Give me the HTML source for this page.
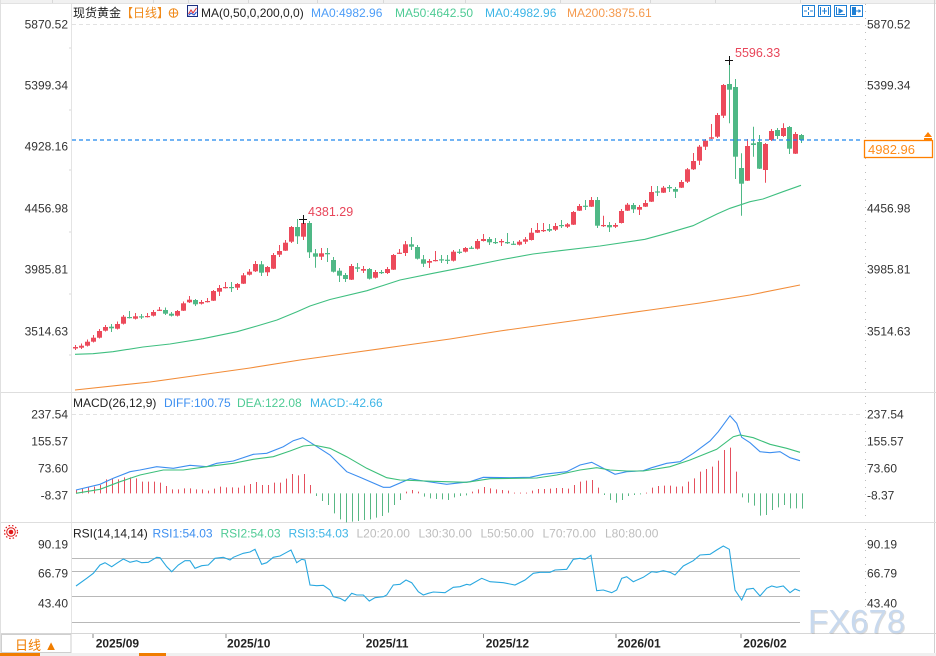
<!DOCTYPE html>
<html><head><meta charset="utf-8">
<style>
html,body{margin:0;padding:0;background:#fff;}
body{width:936px;height:656px;overflow:hidden;position:relative;}
svg{position:absolute;left:0;top:0;}
</style></head><body>
<svg id="s" width="936" height="656" viewBox="0 0 936 656" xmlns="http://www.w3.org/2000/svg" font-family="'Liberation Sans','Noto Sans CJK SC',sans-serif" font-size="12">
<rect x="0" y="0" width="936" height="656" fill="#fff"/>
<!-- top tab strip -->
<rect x="0" y="0" width="936" height="3" fill="#f1f1f1"/>
<line x1="0" y1="3.5" x2="936" y2="3.5" stroke="#e2e2e2"/>
<g stroke="#d8d8d8"><line x1="52.5" y1="0" x2="52.5" y2="3"/><line x1="153.5" y1="0" x2="153.5" y2="3"/><line x1="188.5" y1="0" x2="188.5" y2="3"/><line x1="248.5" y1="0" x2="248.5" y2="3"/><line x1="317.5" y1="0" x2="317.5" y2="3"/><line x1="383.5" y1="0" x2="383.5" y2="3"/><line x1="465.5" y1="0" x2="465.5" y2="3"/><line x1="560.5" y1="0" x2="560.5" y2="3"/><line x1="650.5" y1="0" x2="650.5" y2="3"/><line x1="715.5" y1="0" x2="715.5" y2="3"/><line x1="800.5" y1="0" x2="800.5" y2="3"/></g>

<!-- frame lines -->
<line x1="71.5" y1="4" x2="71.5" y2="633" stroke="#e4e4e4"/>
<line x1="865.5" y1="4" x2="865.5" y2="633" stroke="#bdbdbd" stroke-dasharray="1,6"/>
<line x1="934.5" y1="0" x2="934.5" y2="656" stroke="#d0d0d0"/>
<line x1="0" y1="392.5" x2="936" y2="392.5" stroke="#dedede"/>
<line x1="0" y1="522.5" x2="936" y2="522.5" stroke="#dedede"/>
<line x1="0" y1="633.5" x2="936" y2="633.5" stroke="#d6d6d6"/>
<line x1="0.5" y1="0" x2="0.5" y2="656" stroke="#e0e0e0"/>

<!-- grid -->
<line x1="72" y1="24.5" x2="862" y2="24.5" stroke="#e2e2e2" stroke-dasharray="4,3"/>
<line x1="72" y1="414.5" x2="862" y2="414.5" stroke="#e2e2e2" stroke-dasharray="4,3"/>
<g stroke="#b8b8b8">
<line x1="72" y1="558.5" x2="800" y2="558.5"/>
<line x1="72" y1="571.5" x2="800" y2="571.5"/>
<line x1="72" y1="596.5" x2="800" y2="596.5"/>
<line x1="72" y1="622.5" x2="800" y2="622.5"/>
</g>

<!-- header -->
<text x="73" y="17" fill="#222">现货黄金</text>
<text x="121" y="17" fill="#f08a1a">【日线】</text>
<circle cx="173.5" cy="13" r="4.3" fill="none" stroke="#f08a1a" stroke-width="1"/>
<line x1="169" y1="13" x2="178" y2="13" stroke="#f08a1a"/>
<line x1="173.5" y1="8.5" x2="173.5" y2="17.5" stroke="#f08a1a"/>
<rect x="187.5" y="5.5" width="10" height="11" fill="#f4f6ff" stroke="#1c2f80"/>
<polyline points="188.5,14 191,10 193,13 196.5,8" fill="none" stroke="#e03030" stroke-width="1"/>
<polyline points="188.5,15.5 191,13 194,15 196.5,12" fill="none" stroke="#2050d0" stroke-width="1"/>
<text x="201" y="17" fill="#222">MA(0,50,0,200,0,0)</text>
<text x="311" y="17" fill="#4d9df7">MA0:4982.96</text>
<text x="395" y="17" fill="#4fcb95">MA50:4642.50</text>
<text x="485" y="17" fill="#3db5e6">MA0:4982.96</text>
<text x="567" y="17" fill="#f59a4e">MA200:3875.61</text>

<!-- top-right icons -->
<g fill="none" stroke="#1f7fd4" stroke-width="1">
<rect x="802.5" y="5.5" width="12" height="11"/>
<line x1="808.5" y1="7" x2="808.5" y2="10"/><line x1="808.5" y1="12" x2="808.5" y2="15"/>
<line x1="804" y1="11" x2="807" y2="11"/><line x1="810" y1="11" x2="813" y2="11"/>
<rect x="818.5" y="5.5" width="12" height="11"/>
<line x1="820.5" y1="7" x2="820.5" y2="15"/><line x1="828.5" y1="7" x2="828.5" y2="15"/>
<line x1="822" y1="11" x2="827" y2="11"/><line x1="824.5" y1="8" x2="824.5" y2="14"/>
<rect x="834.5" y="5.5" width="12" height="11"/>
<line x1="836.5" y1="7" x2="836.5" y2="15"/>
<line x1="836.5" y1="14.5" x2="845" y2="14.5"/>
<rect x="850.5" y="5.5" width="12" height="11"/>
<rect x="852.5" y="7.5" width="3" height="7" fill="#1f7fd4"/>
<line x1="856" y1="11" x2="861" y2="11"/>
</g>
<polygon points="838.5,8 843.5,11 838.5,14" fill="#1f7fd4"/>
<polygon points="858.5,9 861,11 858.5,13" fill="#1f7fd4"/>

<!-- axis labels main -->
<g fill="#333" text-anchor="end">
<text x="68" y="28.3">5870.52</text>
<text x="68" y="89.3">5399.34</text>
<text x="68" y="150.3">4928.16</text>
<text x="68" y="212.3">4456.98</text>
<text x="68" y="273.3">3985.81</text>
<text x="68" y="335.3">3514.63</text>
<text x="68" y="418.6">237.54</text>
<text x="68" y="445.6">155.57</text>
<text x="68" y="472.6">73.60</text>
<text x="68" y="499.6">-8.37</text>
<text x="68" y="548.3">90.19</text>
<text x="68" y="577.6">66.79</text>
<text x="68" y="607.6">43.40</text>
</g>
<g fill="#333">
<text x="867" y="28.3">5870.52</text>
<text x="867" y="89.3">5399.34</text>
<text x="867" y="212.3">4456.98</text>
<text x="867" y="273.3">3985.81</text>
<text x="867" y="335.3">3514.63</text>
<text x="867" y="418.6">237.54</text>
<text x="867" y="445.6">155.57</text>
<text x="867" y="472.6">73.60</text>
<text x="867" y="499.6">-8.37</text>
<text x="867" y="548.3">90.19</text>
<text x="867" y="577.6">66.79</text>
</g>
<g fill="#bbb"><circle cx="70" cy="48" r="0.6"/><circle cx="70" cy="110" r="0.6"/><circle cx="70" cy="170" r="0.6"/><circle cx="70" cy="232" r="0.6"/><circle cx="70" cy="294" r="0.6"/><circle cx="70" cy="355" r="0.6"/></g>

<!-- MA lines -->
<polyline fill="none" stroke="#f28c38" stroke-width="1.1" points="75,390 150,382 200,375 250,368 300,360 350,353 400,346 450,339 500,331 550,324 600,317 650,310 700,303 750,295 800,285"/>
<polyline fill="none" stroke="#3fbf80" stroke-width="1.1" points="75,354.3 93,353.7 113,351.7 143,347 170,344 203,338.7 237,331.7 257,326 277,320 297,311.7 310,306 330,299.5 367,290.7 400,280 433,273.3 467,266.7 500,260 533,254 560,250.7 600,246 645,239.3 667,233.3 693,225.7 717,214 730,208.3 750,201.7 763,199 783,191.7 801,185.3"/>

<g id="candles"></g>

<!-- current price line -->
<line x1="72" y1="140" x2="862" y2="140" stroke="#1e86ee" stroke-width="1.3" stroke-dasharray="4,3"/>
<rect x="864.5" y="140.5" width="68" height="17" fill="#fff" stroke="#ff8000" stroke-width="1.3"/>
<text x="868" y="154" fill="#ff8c1a" font-size="13">4982.96</text>
<polygon points="924,137 928,132 932,137" fill="#ff8000"/>
<rect x="924" y="138" width="8" height="2" fill="#ff8000"/>

<!-- high markers -->
<g stroke="#111" stroke-width="1">
<line x1="299" y1="219.5" x2="307" y2="219.5"/><line x1="303.5" y1="215" x2="303.5" y2="224"/>
<line x1="725" y1="60.5" x2="733" y2="60.5"/><line x1="729.5" y1="56" x2="729.5" y2="65"/>
</g>
<text x="308" y="216" fill="#e8465a" font-size="12.5">4381.29</text>
<text x="735" y="57" fill="#e8465a" font-size="12.5">5596.33</text>

<!-- MACD -->
<text x="73" y="407" fill="#222">MACD(26,12,9)</text>
<text x="164" y="407" fill="#3d8ff0">DIFF:100.75</text>
<text x="237" y="407" fill="#4fcb95">DEA:122.08</text>
<text x="310" y="407" fill="#3db5e6">MACD:-42.66</text>
<g id="hist"></g>
<polyline fill="none" stroke="#3c8ef0" stroke-width="1.1" points="76,490 100,484.3 113.3,478.3 130,471.7 140,470 156.7,466.7 173.3,468.3 190,465.3 206.7,466.7 216.7,463.3 233.3,461 253.3,454.3 266.7,453.3 283.3,446.7 293.3,440.7 302.7,437.7 313.3,444.3 330,455 346.7,471.7 360,477.3 383.3,487.3 390,487.3 410,478.7 423.3,481 446.7,484.3 470,481.7 483.3,477.3 510,477.7 530,477.3 543.3,474.3 566.7,471.7 580,465 591.7,462.3 603.3,468.3 615,474.3 626.7,471.7 643.3,470.7 651.7,467.7 666.7,463.3 680,461.7 693.3,453.3 710,441 718.3,431.7 730,415.7 736.7,423.3 741.7,437.3 750,442.7 760,451.7 770,452.7 780,451.7 790,457.7 800,460.7"/>
<polyline fill="none" stroke="#3cbf7a" stroke-width="1.1" points="76,493.3 100,489.3 120,481.7 140,475 163.3,470 183.3,470 206.7,466.7 233.3,463.3 253.3,459.3 273.3,456.7 290,451 303.3,446 313.3,445 330,448.3 346.7,456.7 366.7,468.3 386.7,477.7 400,480 433.3,481.3 466.7,482.3 490,478.7 536.7,478 556.7,475 580,470 596.7,467.7 610,470 626.7,471 643.3,471 670,466.7 690,460 716.7,449.3 733.3,436.7 740,435 753.3,437.7 770,444.3 786.7,448.3 800,452.3"/>

<!-- RSI -->
<g>
<circle cx="11" cy="532" r="2.3" fill="#e01818"/>
<circle cx="11" cy="532" r="4.3" fill="none" stroke="#e01818" stroke-width="1"/>
<circle cx="11" cy="532" r="6.5" fill="none" stroke="#e01818" stroke-width="1.2" stroke-dasharray="1.5,2"/>
</g>
<text x="73" y="537.5" fill="#222">RSI(14,14,14)</text>
<text x="152.5" y="537.5" fill="#3d8ff0">RSI1:54.03</text>
<text x="220.5" y="537.5" fill="#4fcb95">RSI2:54.03</text>
<text x="288.5" y="537.5" fill="#3db5e6">RSI3:54.03</text>
<g fill="#bdbdbd">
<text x="356.5" y="537.5">L20:20.00</text>
<text x="418.5" y="537.5">L30:30.00</text>
<text x="480.5" y="537.5">L50:50.00</text>
<text x="542.5" y="537.5">L70:70.00</text>
<text x="605" y="537.5">L80:80.00</text>
</g>
<polyline fill="none" stroke="#29a8e0" stroke-width="1.1" points="76,586 86.7,578.3 93.3,573.3 100,565 105,562.7 111.7,566.7 116.7,563.3 123.3,559 130,562.3 136.7,560.7 141.7,562.7 148.3,562.3 156.7,557.3 160,557.7 166.7,566.7 171.7,571.7 178.3,565 185,560.7 190,560.7 195,568.3 201.7,565.7 208.3,565 215,558.3 223.3,557.3 230,560 233.3,557.3 243.3,553.3 250,552 255,549.3 261.7,564.3 266.7,562.7 273.3,557.3 280,556 286.7,552.3 291,550 296.7,562.7 301.7,559.3 305,560 310,585 316.7,585.7 323.3,585.3 330,590 333.3,596.7 340,598.3 345,601 351.7,593.3 356.7,595 363.3,595 369.3,601 375,597.7 383.3,596.7 386.7,595 393.3,585 400,584.3 406,580 411.7,582.7 418.3,591.7 423.3,595 428.3,593.3 433.3,592 445,592.7 453.3,587.3 460,586.7 466.7,584.3 470,585 481.7,578.3 490,581.7 503.3,582.7 515,585 525,580 533.3,573.3 540,572.3 550,572.3 555,570 566.7,569.3 573.3,559.3 580,558.3 585,559.3 591,555.3 596.7,590.7 603.3,590 611.7,592.7 616.7,590 621.7,578.3 626.7,576.7 633.3,581.7 643.3,577.3 651.7,571.7 656.7,572.3 663.3,570.7 670,572.3 675,575 683.3,566 693.3,560.7 700,555 710,554.3 716.7,550 723.3,546 729.3,549.3 735,590 741.7,600 746.7,589.3 753.3,588.3 760,596 766.7,588.3 771.7,586 776.7,587.3 783.3,586 790,592.7 795,589 800,591"/>

<!-- watermark -->
<text x="809" y="634" font-size="33" fill="#9a9a9a" opacity="0.35">FX678</text>
<text x="808" y="633" font-size="33" fill="#c8d9ee">FX678</text>
<text x="867" y="607.6" fill="#333">43.40</text>

<!-- date axis -->
<g stroke="#888">
<line x1="93" y1="634" x2="93" y2="638"/>
<line x1="226" y1="634" x2="226" y2="638"/>
<line x1="363.5" y1="634" x2="363.5" y2="638"/>
<line x1="483.5" y1="634" x2="483.5" y2="638"/>
<line x1="616" y1="634" x2="616" y2="638"/>
<line x1="741" y1="634" x2="741" y2="638"/>
</g>
<g fill="#222" font-weight="bold">
<text x="95.7" y="647.5">2025/09</text>
<text x="227" y="647.5">2025/10</text>
<text x="365.7" y="647.5">2025/11</text>
<text x="485.7" y="647.5">2025/12</text>
<text x="617.3" y="647.5">2026/01</text>
<text x="743.3" y="647.5">2026/02</text>
</g>
<rect x="1.5" y="634.5" width="69.5" height="18" fill="none" stroke="#cfcfcf"/>
<text x="15" y="650" fill="#f07d00" font-size="13">日线 ▲</text>
<rect x="0" y="653" width="936" height="3" fill="#f0f0f0"/>
<rect x="0" y="653" width="40" height="3" fill="#f07d00"/>
<rect x="139" y="653" width="27" height="3" fill="#f07d00"/>
</svg>
<script>
(function(){
var NS="http://www.w3.org/2000/svg";
function el(t,a,p){var e=document.createElementNS(NS,t);for(var k in a)e.setAttribute(k,a[k]);p.appendChild(e);return e;}
var C=[[347,348.5,'r',345,350],[345.7,347.7,'r',343.5,349],[341.7,345.7,'r',339.5,346.5],[337.7,341.7,'r',335,342.5],[331,337.7,'r',329,338.5],[327,330.7,'r',325,331.5],[326.7,328.3,'g',324,332],[324,328.7,'r',321.5,329.5],[316.7,323.7,'r',315,324.5],[317,318,'g',311,318.5],
[316.3,318.7,'r',313,319.5],[316.3,317.3,'g',314,319],[316,316.7,'r',313,317.5],[312,315.7,'r',310,316.5],[309.7,310.7,'r',307,311],[310,313.7,'g',307.5,315],[313.7,315.7,'g',312,316.5],[311,315.7,'r',310,316.5],[303.3,310.7,'r',301.5,311],[299.7,302.3,'r',296,303],
[300,304.3,'g',299,306],[302,303.7,'r',300,304.5],[301,301.7,'r',298,302.5],[291,300.7,'r',290,301],[288,291.7,'r',285,296],[287,287.7,'r',282,288.5],[287,288,'g',282,292],[284,287.7,'r',283,290],[275.3,283.7,'r',273,284],[271.7,274.7,'r',269,275.5],
[264,271.3,'r',261,272],[264.3,272.7,'g',261,276],[267,272.3,'r',266,276],[255,268.7,'r',253,269],[251,254.7,'r',245,257],[242.7,250.7,'r',240,251],[227,241.7,'r',226,243],[227,236.3,'g',219,244],[223,236.7,'r',218.7,240],[223,252.3,'g',221,258],
[253.3,256.7,'g',249,267.7],[253.3,256.7,'r',248,260],[253,254.3,'g',248,262],[260,271.7,'g',257,272.5],[270.7,275.7,'g',268,282],[275,279,'g',273,282],[266,279.7,'r',264,280],[267.3,268.7,'g',263,272],[269,270.7,'r',266,273],[269,278.7,'g',268,279.5],
[272,277.7,'r',270,278.5],[272,273,'g',270,274],[269,273,'r',267,274],[255,269.7,'r',254,270],[252.7,253.3,'r',249,254],[244.3,253,'r',241,256],[244.3,246.7,'g',237,250],[247,258.7,'g',245,259.5],[259.3,263.7,'g',255,267],[261,262.7,'r',259,268],
[260,260.7,'r',251,261.5],[259.3,260,'g',255,263],[259.7,260.3,'g',255,264],[251.7,260.7,'r',250,261.5],[251.7,252.7,'g',249,254],[248,251.7,'r',247,252.5],[247.7,248.3,'g',246,249],[241,248.7,'r',239,249.5],[239,241,'r',234,241.5],[239,242.3,'g',237,245],
[242,242.6,'g',238,244],[241,242.3,'r',239,246],[242,243.3,'g',233,244],[243.7,244.3,'g',241,245],[241.7,244.7,'r',240,245.5],[239.3,241.7,'r',237,244],[232.7,240,'r',228,240.5],[230,232.7,'r',223,233],[230,230.7,'r',223,232],[229,230.7,'g',224,232],
[226,229.7,'r',223,231],[225,225.7,'g',220,228],[224.3,226.7,'r',223,228],[212,224.7,'r',211,225],[206,210.7,'r',204,211],[205.7,206.3,'g',200,210],[200,206.7,'r',197,207],[200,225.7,'g',197,228],[225,225.7,'r',215.7,227],[225,227.3,'g',222,232],
[225,226.7,'r',223,228],[211,223,'r',209,223.5],[204.7,210.7,'r',203,211],[205,209.3,'g',203,213],[207,209.7,'r',205,215],[203,206.7,'r',200,207],[192,201.7,'r',186,202],[191.4,192,'g',186,196],[187.7,192.7,'r',186,193],[187,188.3,'g',185,192],
[189,191.7,'g',187,198],[182,187.7,'r',180,188],[169.3,181.7,'r',168,183],[161,169.3,'r',153,170],[146.7,160.7,'r',145,165],[140.7,146.7,'r',139,150],[137.3,138.7,'r',124,139],[115,136.7,'r',113,138],[85,115.7,'r',84,118],[84,89.7,'g',60,123.3],
[87,156.7,'g',79,179],[168,183.7,'g',153.3,215.7],[146,180.7,'r',139,181],[143.3,145,'g',126.7,156.7],[142,168.7,'g',135,169],[144,170,'r',143,182.7],[131,140,'r',129,141],[130,136,'g',128,139],[128,136,'r',123.3,137],[127,148.7,'g',126,154],
[134,153.7,'r',132,154],[135,140,'g',134,143]];
var g=document.getElementById('candles');
for(var i=0;i<C.length;i++){var c=C[i];var cx=75.5+6*i;var col=c[2]=='r'?'#ec4a5b':'#4fb886';
el('line',{x1:cx,x2:cx,y1:c[3],y2:c[4],stroke:col,'stroke-width':1},g);
var h=Math.max(c[1]-c[0],1.2);
el('rect',{x:cx-2.5,y:c[0],width:5,height:h,fill:col},g);}
var H=[300,297,292,290,285,268,265,268,262,262,265,275,275,275,278,288,298,298,295,295,298,298,302,296,290,292,292,293,287,282,276,285,285,278,278,266,252,256,252,285,
318,333,345,370,388,397,395,393,390,388,383,378,368,345,330,305,300,305,320,325,327,328,330,322,318,316,
305,298,291,295,298,300,302,308,308,308,302,297,297,296,294,294,296,285,275,272,270,293,
315,330,338,330,318,315,313,
308,293,288,287,287,290,289,275,265,245,237,230,212,180,173,245,
322,338,347,377,375,360,352,345,355,355,356];
var hg=document.getElementById('hist');var z=493.33;
for(var j=0;j<H.length;j++){var x=76.5+6*j;var y=390+H[j]/3;var red=H[j]<310;
var y1=Math.min(y,z),y2=Math.max(y,z);if(y2-y1<0.8){y2=y1+0.8;}
el('line',{x1:x,x2:x,y1:y1,y2:y2,stroke:red?'#e5505e':'#58b884','stroke-width':1},hg);}
})();
</script>
</body></html>
